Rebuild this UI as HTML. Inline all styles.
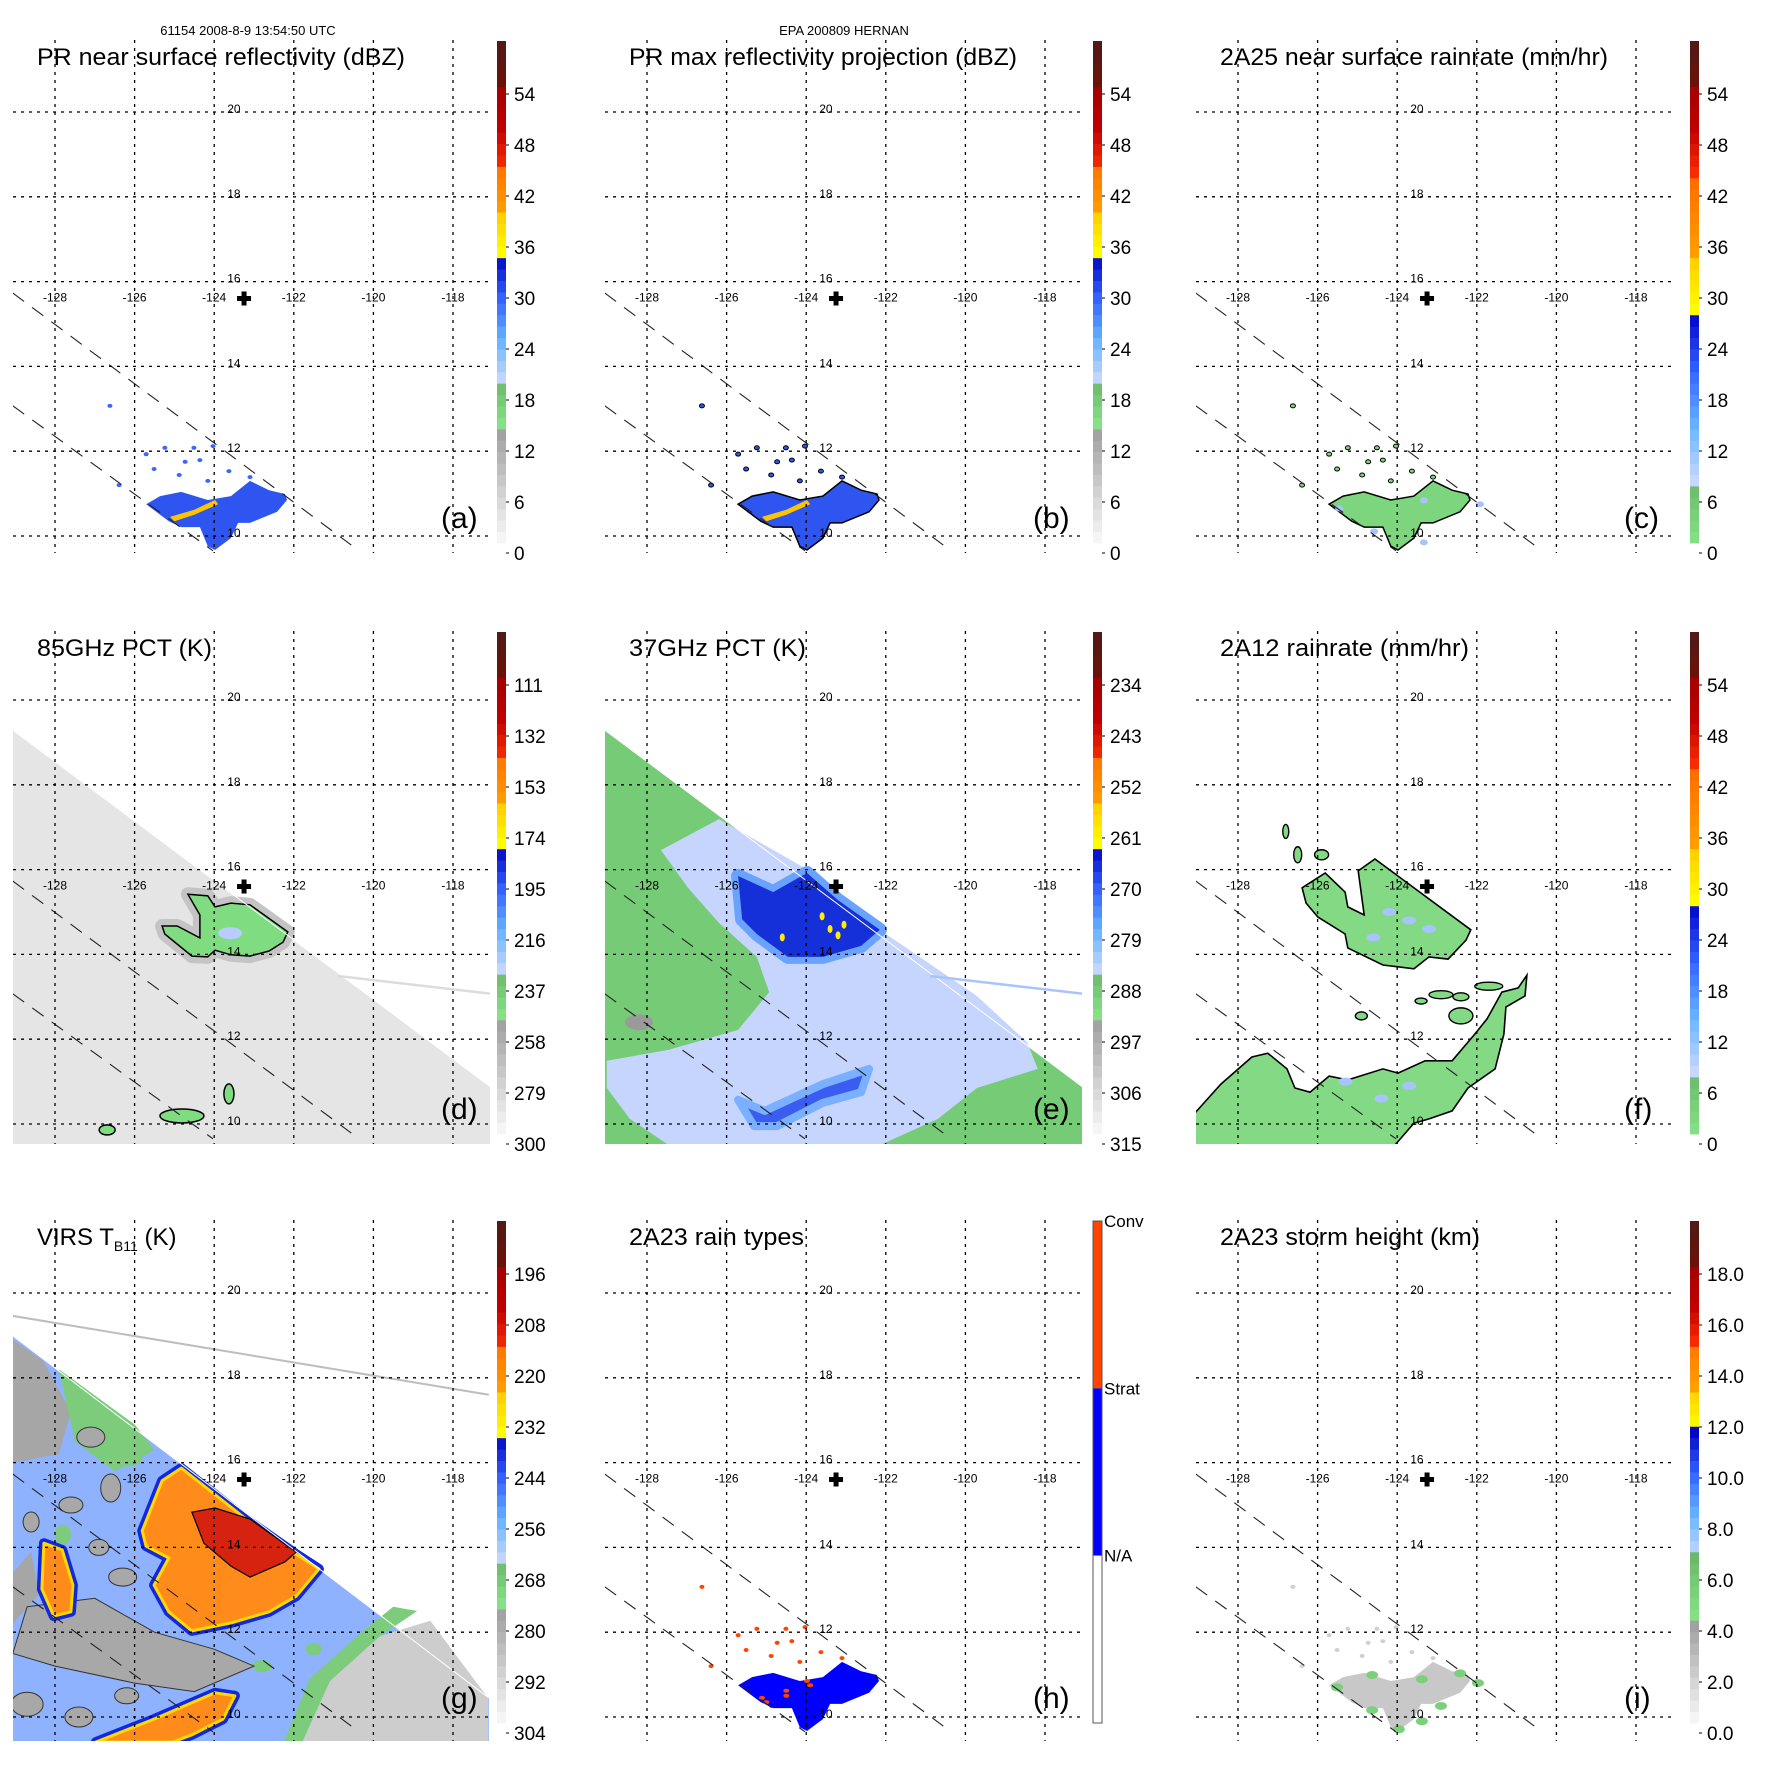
<!DOCTYPE html>
<html><head><meta charset="utf-8"><title>TRMM Hernan 9-panel</title>
<style>
html,body{margin:0;padding:0;background:#fff;}
svg{display:block;font-family:"Liberation Sans",Arial,sans-serif;}
</style></head>
<body>
<svg id="chart" width="1771" height="1771" viewBox="0 0 1771 1771" xmlns="http://www.w3.org/2000/svg">
<rect x="0" y="0" width="1771" height="1771" fill="#fff"/>
</svg>
<script>
// ---------- data ----------
const lonTicks = [-128,-126,-124,-122,-120,-118];
const latTicks = [20,18,16,14,12,10];
const ticksDbz = ['0','6','12','18','24','30','36','42','48','54'];
const ticksRain = ['0','6','12','18','24','30','36','42','48','54'];
const ticks85 = ['300','279','258','237','216','195','174','153','132','111'];
const ticks37 = ['315','306','297','288','279','270','261','252','243','234'];
const ticksVirs = ['304','292','280','268','256','244','232','220','208','196'];
const ticksHt = ['0.0','2.0','4.0','6.0','8.0','10.0','12.0','14.0','16.0','18.0'];
const rainTypeLabels = ['Conv','Strat','N/A'];
const stormCenter = [-123.25, 15.6];
const swathEdgeA = [[-129.06,19.29],[-117.02,10.85]];
const swathEdgeG = [[-129.06,18.99],[-117.1,10.45]];
const prEdge1 = [[-129.06,15.73],[-120.39,9.67]];
const prEdge2 = [[-129.06,13.07],[-124.03,9.65]];
const orbitLineDE = [[-120.89,13.49],[-117.02,13.07]];
const orbitLineG = [[-129.06,19.46],[-117.1,17.6]];
const prCluster = [[-125.71,10.75],[-125.36,10.94],[-124.83,11.04],[-124.16,10.85],[-123.58,10.94],[-123.10,11.30],[-122.62,11.08],[-122.22,10.99],[-122.17,10.85],[-122.42,10.57],[-123.10,10.31],[-123.40,10.31],[-123.58,9.95],[-123.98,9.67],[-124.16,9.76],[-124.36,10.21],[-124.83,10.21],[-125.14,10.35]];
const prCore = [[-125.11,10.45],[-124.5,10.62],[-123.98,10.85],[-123.9,10.75],[-124.5,10.5],[-125.0,10.35]];
const prSpecks = [[-125.24,12.08],[-124.51,12.08],[-124.03,12.12],[-124.73,11.75],[-124.36,11.79],[-124.88,11.44],[-124.16,11.30],[-126.39,11.20],[-126.62,13.07],[-123.63,11.53],[-123.10,11.39],[-125.71,11.93],[-125.51,11.58]];
const d85Patch = [[-124.66,15.42],[-124.16,15.38],[-123.98,15.12],[-123.58,15.21],[-123.10,15.17],[-122.15,14.53],[-122.27,14.29],[-122.62,14.08],[-123.10,13.96],[-123.58,13.99],[-123.98,14.10],[-124.16,13.94],[-124.56,13.96],[-125.24,14.48],[-125.31,14.67],[-124.93,14.67],[-124.36,14.39],[-124.36,14.93]];
const d85Blobs = [[-124.81,10.19,22,7],[-126.69,9.86,8,5],[-123.63,10.71,5,10]];
const e37Light = [[-126.19,17.19],[-123.98,16.01],[-122.15,14.58],[-119.71,13.02],[-118.45,11.93],[-118.18,11.30],[-119.71,10.85],[-120.69,10.12],[-122.15,9.5],[-127.45,9.5],[-128.43,10.12],[-129.01,10.85],[-129.01,11.49],[-127.45,11.75],[-125.71,12.22],[-124.93,13.11],[-125.24,13.94],[-126.19,14.74],[-126.97,15.57],[-127.65,16.46]];
const e37Eye = [[-125.71,15.85],[-124.83,15.47],[-123.98,15.92],[-123.20,15.28],[-122.15,14.58],[-122.62,14.20],[-123.58,13.94],[-124.46,13.94],[-125.24,14.48],[-125.61,14.83]];
const e37Band = [[-125.71,10.57],[-125.04,10.31],[-123.58,10.94],[-122.42,11.30],[-122.62,10.75],[-123.58,10.50],[-124.73,9.95],[-125.31,9.95]];
const e37Yellow = [[-123.4,14.6],[-123.2,14.45],[-123.05,14.7],[-123.6,14.9],[-124.6,14.4]];
const f12Upper = [[-126.39,15.57],[-125.81,15.92],[-125.31,15.47],[-125.24,15.12],[-124.83,14.93],[-124.98,15.97],[-124.56,16.25],[-122.15,14.58],[-122.27,14.34],[-122.72,13.89],[-123.20,13.94],[-123.58,13.66],[-124.36,13.75],[-125.24,14.15],[-125.31,14.48],[-125.99,14.88],[-126.29,15.21]];
const f12Lower = [[-129.13,10.21],[-128.43,10.94],[-127.65,11.58],[-127.25,11.67],[-126.77,11.30],[-126.57,10.85],[-126.19,10.75],[-125.71,11.13],[-125.24,11.04],[-124.36,11.30],[-123.98,11.20],[-123.30,11.49],[-122.62,11.49],[-122.05,12.12],[-121.74,12.48],[-121.37,13.11],[-120.96,13.21],[-120.74,13.51],[-120.79,13.02],[-121.27,12.76],[-121.32,12.12],[-121.54,11.30],[-122.22,10.85],[-122.62,10.31],[-123.20,10.12],[-123.58,10.02],[-124.06,9.5],[-129.13,9.5]];
const f12Small = [[-122.9,13.05,12,4],[-122.4,13.0,8,4],[-121.7,13.25,14,4],[-123.4,12.9,6,3],[-122.4,12.55,12,8],[-126.8,16.9,3,7],[-126.5,16.35,4,8],[-125.9,16.35,7,5],[-124.9,12.55,6,4]];
const gOrange = [[-125.81,14.39],[-125.31,15.57],[-124.83,15.87],[-123.20,14.67],[-121.94,13.84],[-121.37,13.49],[-121.94,12.85],[-122.62,12.48],[-123.58,12.22],[-124.56,12.03],[-125.14,12.48],[-125.51,13.11],[-125.14,13.75],[-125.71,14.03]];
const gRed = [[-124.56,14.83],[-123.98,14.93],[-123.10,14.67],[-121.94,13.89],[-122.22,13.66],[-123.10,13.30],[-123.58,13.56],[-124.26,14.10]];
const gLeftOrange = [[-128.28,14.10],[-127.82,13.94],[-127.55,13.11],[-127.60,12.48],[-128.03,12.38],[-128.33,13.02]];
const gBottomOrange = [[-126.97,9.41],[-125.51,9.95],[-123.98,10.57],[-123.48,10.50],[-123.78,9.95],[-124.56,9.58],[-125.04,9.41]];
const gGreyBR = [[-121.84,9.3],[-121.09,10.85],[-119.83,11.91],[-118.57,12.27],[-117.12,10.45],[-117.12,9.3]];
const gGreenBR = [[-122.3,9.3],[-121.6,10.9],[-120.3,12.0],[-119.5,12.6],[-118.9,12.5],[-119.83,11.91],[-121.09,10.85],[-121.84,9.3]];
const gGreyMid = [[-128.7,12.6],[-127,12.8],[-125.5,12],[-124,11.6],[-123,11.2],[-124.5,10.6],[-126,10.8],[-128,11.2],[-129.06,11.5]];
const gGreyTL = [[-129.06,18.9],[-128.3,18.4],[-127.6,17.2],[-127.9,16.2],[-129.06,16.0]];
const gGreenTL = [[-127.9,18.2],[-126,16.9],[-125.5,16.3],[-126.5,15.8],[-127.5,16.5]];
const gGreyLeft = [[-129.06,13.4],[-128.6,13.9],[-128.4,12.9],[-129.06,12.2]];
const gGreyBlobs = [[-127.1,16.6,14,10],[-126.6,15.4,10,14],[-127.6,15.0,12,8],[-126.9,14.0,10,8],[-126.3,13.3,14,9],[-128.7,10.3,16,12],[-127.4,10.0,14,10],[-126.2,10.5,12,8],[-128.6,14.6,8,10]];
const gGreenBlobs = [[-126.2,16.1,16,8],[-127.8,14.3,8,10],[-126.0,11.4,16,6],[-124.0,11.0,12,7],[-122.8,11.2,10,6],[-121.5,11.6,8,6]];

// ---------- layout ----------
const NS = 'http://www.w3.org/2000/svg';
const svg = document.getElementById('chart');
const colX = [0, 592, 1183];
const rowY = [0, 591, 1180];
const cbXs = [497, 1093, 1690];
const gridY0 = [112, 109, 113];

function tag(el, name, inter){
  
  
  return el;
}
function mk(tagName, attrs, parent){
  const el = document.createElementNS(NS, tagName);
  for (const k in attrs) el.setAttribute(k, attrs[k]);
  (parent || svg).appendChild(el);
  return el;
}
function hex2rgb(h){return [parseInt(h.slice(1,3),16),parseInt(h.slice(3,5),16),parseInt(h.slice(5,7),16)];}
function lerpCol(cols, t){
  const n = cols.length - 1; const s = Math.min(n - 1e-9, Math.max(0, t * n));
  const i = Math.floor(s), f = s - i; const a = hex2rgb(cols[i]), b = hex2rgb(cols[i+1]);
  return 'rgb(' + a.map((v,k)=>Math.round(v + (b[k]-v)*f)).join(',') + ')';
}
const cmapStd = [[0,0.2375,['#fafafa','#9a9a9a']],[0.2375,0.32,['#86e286','#6cb96c']],[0.32,0.575,['#ccd9ff','#66b4ff','#3360ff','#0000c0']],[0.575,0.658,['#ffff00','#ffcc00']],[0.658,0.742,['#ffa000','#ff7800']],[0.742,0.917,['#ff3000','#c00000','#a00000']],[0.917,1,['#6a1208','#4e1a18']]];
const cmapRain = [[0,0.12,['#86e286','#6cb96c']],[0.12,0.46,['#ccd9ff','#66b4ff','#3360ff','#0000c8']],[0.46,0.57,['#ffff00','#ffcc00']],[0.57,0.73,['#ffa000','#ff6a00']],[0.73,0.92,['#ff3000','#c00000','#a00000']],[0.92,1,['#6a1208','#4e1a18']]];
const cmapHt = [[0,0.21,['#fafafa','#9a9a9a']],[0.21,0.33,['#86e286','#6cb96c']],[0.33,0.585,['#ccd9ff','#66b4ff','#3360ff','#0000c0']],[0.585,0.67,['#ffff00','#ffcc00']],[0.67,0.75,['#ffa000','#ff7800']],[0.75,0.917,['#ff3000','#c00000','#a00000']],[0.917,1,['#6a1208','#4e1a18']]];

const panels = [
  {id:'a', c:0, r:0, title:'PR near surface reflectivity (dBZ)', tw:368, ticks:ticksDbz, cmap:cmapStd, edge:null},
  {id:'b', c:1, r:0, title:'PR max reflectivity projection (dBZ)', tw:388, ticks:ticksDbz, cmap:cmapStd, edge:null},
  {id:'c', c:2, r:0, title:'2A25 near surface rainrate (mm/hr)', tw:388, ticks:ticksRain, cmap:cmapRain, edge:null},
  {id:'d', c:0, r:1, title:'85GHz PCT (K)', tw:175, ticks:ticks85, cmap:cmapStd, edge:swathEdgeA},
  {id:'e', c:1, r:1, title:'37GHz PCT (K)', tw:177, ticks:ticks37, cmap:cmapStd, edge:swathEdgeA},
  {id:'f', c:2, r:1, title:'2A12 rainrate (mm/hr)', tw:249, ticks:ticksRain, cmap:cmapRain, edge:null},
  {id:'g', c:0, r:2, title:'VIRS', tw:147, ticks:ticksVirs, cmap:cmapStd, edge:swathEdgeG},
  {id:'h', c:1, r:2, title:'2A23 rain types', tw:175, ticks:null, cmap:null, edge:null},
  {id:'i', c:2, r:2, title:'2A23 storm height (km)', tw:260, ticks:ticksHt, cmap:cmapHt, edge:null}
];

let h1 = mk('text',{x:248,y:35,'font-size':13,'text-anchor':'middle',fill:'#000'});
h1.textContent = '61154 2008-8-9 13:54:50 UTC';
tag(h1,'orbit-timestamp');
let h2 = mk('text',{x:844,y:35,'font-size':13,'text-anchor':'middle',fill:'#000'});
h2.textContent = 'EPA 200809 HERNAN';
tag(h2,'storm-name-header');

panels.forEach(function(p){
  const ox = colX[p.c], oy = rowY[p.r];
  const gy0 = gridY0[p.r];
  const X = lon => ox + 55 + (lon + 128) * 39.8;
  const Y = lat => oy + gy0 + (20 - lat) * 42.4;
  const pts = arr => arr.map(q => X(q[0]).toFixed(1) + ',' + Y(q[1]).toFixed(1)).join(' ');
  const mapL = ox + 13, mapR = ox + 490, mapT = oy + 40, mapB = oy + (p.r === 2 ? 561 : 553);

  const g = mk('g', {});
  tag(g, 'panel-' + p.id);

  const cp = mk('clipPath', {id:'clip-' + p.id}, g);
  mk('rect', {x:mapL, y:mapT, width:mapR-mapL, height:mapB-mapT}, cp);
  const content = mk('g', {'clip-path':'url(#clip-' + p.id + ')'}, g);
  tag(content, 'map-area-' + p.id);

  function poly(arr, fill, name, extra){
    const a = {points: pts(arr), fill: fill};
    for (const k in (extra||{})) a[k] = extra[k];
    const el = mk('polygon', a, content);
    tag(el, name);
    return el;
  }
  function ell(q, fill, name, extra){
    const a = {cx: X(q[0]), cy: Y(q[1]), rx: q[2], ry: q[3], fill: fill};
    for (const k in (extra||{})) a[k] = extra[k];
    const el = mk('ellipse', a, content);
    tag(el, name);
    return el;
  }
  function swath(edge, fill, name){
    const e = [edge[0], edge[1], [edge[1][0], 9.0], [edge[0][0], 9.0]];
    return poly(e, fill, name);
  }

  if (p.id === 'a' || p.id === 'b' || p.id === 'c' || p.id === 'h' || p.id === 'i'){
    const outline = (p.id === 'b' || p.id === 'c') ? {stroke:'#000','stroke-width':1.5} : {};
    const fillMain = {a:'#2f55f0', b:'#2f55f0', c:'#7dd67d', h:'#0000ff', i:'#c8c8c8'}[p.id];
    poly(prCluster, fillMain, 'rain-cluster', outline);
    if (p.id === 'a' || p.id === 'b'){
      poly(prCore, '#ffc400', 'convective-core');
    }
    if (p.id === 'i'){
      prCluster.forEach(function(q, k){ if (k % 2 === 0) ell([q[0]+0.2, q[1]-0.05, 6, 4], '#7cd07c', 'height-patch'); });
    }
    if (p.id === 'c'){
      prCluster.forEach(function(q, k){ if (k % 4 === 0) ell([q[0]+0.25, q[1]-0.1, 4, 3], '#a8c4ff', 'rain-patch'); });
    }
    prSpecks.forEach(function(q){
      const col = {a:'#3a66ff', b:'#2f55f0', c:'#7dd67d', h:'#ff4400', i:'#d0d0d0'}[p.id];
      const ex = (p.id === 'b' || p.id === 'c') ? {stroke:'#000','stroke-width':1} : {};
      ell([q[0], q[1], 2.5, 2], col, 'rain-speck', ex);
    });
    if (p.id === 'h'){
      prCore.forEach(function(q){ ell([q[0], q[1], 3, 2], '#ff4400', 'convective-speck'); });
    }
  }
  if (p.id === 'd'){
    swath(swathEdgeA, '#e5e5e5', 'pct85-swath');
    poly(d85Patch, '#b8b8b8', 'cold-halo', {stroke:'#c4c4c4','stroke-width':14,'stroke-linejoin':'round'});
    poly(d85Patch, '#80dc80', 'pct85-rain-patch', {stroke:'#000','stroke-width':1.5});
    ell([-123.6, 14.5, 12, 6], '#b9ccff', 'pct85-scatter-patch');
    d85Blobs.forEach(function(q){ ell(q, '#80dc80', 'pct85-blob', {stroke:'#000','stroke-width':1.5}); });
  }
  if (p.id === 'e'){
    swath(swathEdgeA, '#76cc76', 'pct37-swath');
    poly(e37Light, '#c6d5fd', 'pct37-light-region');
    poly(e37Eye, '#6aa2ff', 'pct37-halo', {stroke:'#6aa2ff','stroke-width':14,'stroke-linejoin':'round'});
    poly(e37Eye, '#1530d8', 'pct37-eyewall');
    poly(e37Band, '#3a5cf0', 'pct37-rainband', {stroke:'#7ab0ff','stroke-width':8,'stroke-linejoin':'round'});
    e37Yellow.forEach(function(q){ ell([q[0], q[1], 2.5, 4], '#ffee00', 'pct37-yellow'); });
    ell([-128.2, 12.4, 14, 8], '#9a9a9a', 'pct37-grey-patch');
  }
  if (p.id === 'f'){
    poly(f12Upper, '#84da84', 'rain-upper', {stroke:'#000','stroke-width':1.6});
    poly(f12Lower, '#84da84', 'rain-lower', {stroke:'#000','stroke-width':1.6});
    f12Small.forEach(function(q){ ell(q, '#84da84', 'rain-small', {stroke:'#000','stroke-width':1.4}); });
    [[-124.2,15.0],[-123.7,14.8],[-123.2,14.6],[-124.6,14.4],[-125.3,11.0],[-124.4,10.6],[-123.7,10.9]].forEach(function(q){ ell([q[0], q[1], 7, 4], '#a8c4ff', 'rain-light-patch'); });
  }
  if (p.id === 'g'){
    swath(swathEdgeG, '#8fb2ff', 'virs-swath');
    poly(gGreyTL, '#a6a6a6', 'virs-grey-top');
    poly(gGreenTL, '#7ccc7c', 'virs-green-top');
    poly(gGreyLeft, '#a6a6a6', 'virs-grey-left');
    gGreenBlobs.forEach(function(q){ ell(q, '#7ccc7c', 'virs-green-patch'); });
    gGreyBlobs.forEach(function(q){ ell(q, '#a8a8a8', 'virs-grey-patch', {stroke:'#333','stroke-width':1}); });
    poly(gGreyMid, '#a8a8a8', 'virs-grey-mid', {stroke:'#333','stroke-width':1});
    poly(gGreenBR, '#7ccc7c', 'virs-green-br');
    poly(gGreyBR, '#cdcdcd', 'virs-grey-br');
    [gOrange, gLeftOrange, gBottomOrange].forEach(function(a){
      poly(a, 'none', 'virs-cold-ring', {stroke:'#1028e0','stroke-width':10,'stroke-linejoin':'round'});
      poly(a, '#ff8c1a', 'virs-cold-cloud', {stroke:'#ffd800','stroke-width':3,'stroke-linejoin':'round'});
    });
    poly(gRed, '#d6230f', 'virs-coldest', {stroke:'#000','stroke-width':1.2});
  }

  if (p.edge){
    const l = mk('line', {x1:X(p.edge[0][0]), y1:Y(p.edge[0][1]), x2:X(p.edge[1][0]), y2:Y(p.edge[1][1]), stroke:'#fff','stroke-width':1}, content);
    tag(l, 'swath-edge');
  }
  if (p.id === 'd' || p.id === 'e'){
    const l = mk('line', {x1:X(orbitLineDE[0][0]), y1:Y(orbitLineDE[0][1]), x2:X(orbitLineDE[1][0]), y2:Y(orbitLineDE[1][1]), stroke: p.id === 'd' ? '#dcdcdc' : '#a8c4ff','stroke-width':2.5}, content);
    tag(l, 'orbit-track');
  }
  if (p.id === 'g'){
    const l = mk('line', {x1:X(orbitLineG[0][0]), y1:Y(orbitLineG[0][1]), x2:X(orbitLineG[1][0]), y2:Y(orbitLineG[1][1]), stroke:'#bdbdbd','stroke-width':2}, content);
    tag(l, 'orbit-track');
  }
  [prEdge1, prEdge2].forEach(function(e, k){
    const l = mk('line', {x1:X(e[0][0]), y1:Y(e[0][1]), x2:X(e[1][0]), y2:Y(e[1][1]), stroke:'#222','stroke-width':1.1,'stroke-dasharray':'14,10'}, content);
    tag(l, 'pr-swath-edge-' + (k+1));
  });

  lonTicks.forEach(function(lon){
    const l = mk('line', {x1:X(lon), y1:mapT, x2:X(lon), y2:mapB, stroke:'#000','stroke-width':1.3,'stroke-dasharray':'3,5'}, g);
    tag(l, 'lon-gridline');
    const t = mk('text', {x:X(lon), y:Y(16)+20, 'font-size':12, 'text-anchor':'middle', fill:'#000'}, g);
    t.textContent = String(lon);
    tag(t, 'lon-label');
  });
  latTicks.forEach(function(lat){
    const l = mk('line', {x1:mapL, y1:Y(lat), x2:mapR, y2:Y(lat), stroke:'#000','stroke-width':1.3,'stroke-dasharray':'3,5'}, g);
    tag(l, 'lat-gridline');
    const t = mk('text', {x:X(-124)+13, y:Y(lat)+1, 'font-size':12, fill:'#000'}, g);
    t.textContent = String(lat);
    tag(t, 'lat-label');
  });

  const cx = X(stormCenter[0]), cy = Y(stormCenter[1]);
  const cr = mk('path', {d:'M'+(cx-7)+' '+(cy-2.5)+'h14v5h-14z M'+(cx-2.5)+' '+(cy-7)+'h5v14h-5z', fill:'#000'}, g);
  tag(cr, 'storm-center-marker');

  const tt = mk('text', {x:ox+37, y:oy+65, 'font-size':24, fill:'#000'}, g);
  if (p.id === 'g'){
    tt.textContent = 'VIRS T';
    const sub = mk('tspan', {'font-size':14, dy:6}, tt);
    sub.textContent = 'B11';
    const rest = mk('tspan', {dy:-6}, tt);
    rest.textContent = ' (K)';
  } else {
    tt.textContent = p.title;
    tt.setAttribute('textLength', p.tw);
    tt.setAttribute('lengthAdjust', 'spacingAndGlyphs');
  }
  tag(tt, 'panel-title');

  const pl = mk('text', {x:ox+441, y:oy+528, 'font-size':30, fill:'#000'}, g);
  pl.textContent = '(' + p.id + ')';
  tag(pl, 'panel-letter');

  const cbx = cbXs[p.c], cbTop = oy + 41, cbBot = oy + 543, cbW = 9;
  const cb = mk('g', {}, g);
  tag(cb, 'colorbar');
  if (p.cmap){
    const N = 44;
    for (let i = 0; i < N; i++){
      const f = (i + 0.5) / N;
      let col = '#fff';
      p.cmap.forEach(function(b){ if (f >= b[0] && f < b[1]) col = lerpCol(b[2], (f - b[0]) / (b[1] - b[0])); });
      const h = (cbBot - cbTop) / N;
      const r = mk('rect', {x:cbx, y:cbBot - (i+1)*h, width:cbW, height:h+0.4, fill:col}, cb);
      tag(r, 'colorbar-band');
    }
    p.ticks.forEach(function(lbl, i){
      const yy = oy + 553 - i * 51;
      const tk = mk('line', {x1:cbx+cbW, y1:yy, x2:cbx+cbW+3, y2:yy, stroke:'#000','stroke-width':1}, cb);
      tag(tk, 'colorbar-tick');
      const t = mk('text', {x:cbx+cbW+8, y:yy+7, 'font-size':19, fill:'#000'}, cb);
      t.textContent = lbl;
      tag(t, 'colorbar-label');
    });
  } else {
    const seg = (cbBot - cbTop) / 3;
    const cols = ['#ff4400', '#0000ff', '#ffffff'];
    cols.forEach(function(c, k){
      const r = mk('rect', {x:cbx, y:cbTop + k*seg, width:cbW, height:seg, fill:c}, cb);
      tag(r, 'rain-type-band');
    });
    const fr = mk('rect', {x:cbx, y:cbTop, width:cbW, height:cbBot-cbTop, fill:'none', stroke:'#555','stroke-width':1}, cb);
    tag(fr, 'colorbar-frame');
    rainTypeLabels.forEach(function(lbl, k){
      const t = mk('text', {x:cbx+cbW+2, y:cbTop + k*seg + 6, 'font-size':17, fill:'#000'}, cb);
      t.textContent = lbl;
      tag(t, 'rain-type-label');
    });
  }
});
</script>
</body></html>
